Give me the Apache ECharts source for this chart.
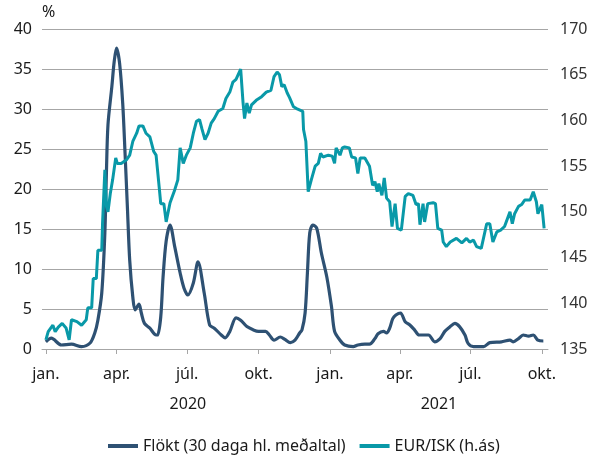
<!DOCTYPE html>
<html lang="is">
<head>
    <meta charset="UTF-8">
    <title>Flökt og EUR/ISK</title>
    <script src="https://cdn.jsdelivr.net/npm/echarts@6/dist/echarts.min.js"></script>
    <style>
        * { margin: 0; padding: 0; }
        body { background: #fff; }
        #main { width: 594px; height: 455px; }
    </style>
</head>
<body>
<div id="main"></div>
<script>
    // flökt, 30 daga hlaupandi meðaltal (vinstri ás, %)
    var floktDates = ['2020-01-01','2020-01-08','2020-01-21','2020-02-03','2020-02-16','2020-02-27','2020-03-04','2020-03-08','2020-03-13','2020-03-17','2020-03-19','2020-03-21','2020-03-26','2020-03-29','2020-04-01','2020-04-05','2020-04-09','2020-04-12','2020-04-15','2020-04-18','2020-04-22','2020-04-25','2020-04-30','2020-05-03','2020-05-07','2020-05-14','2020-05-22','2020-05-24','2020-05-28','2020-05-31','2020-06-04','2020-06-09','2020-06-15','2020-06-22','2020-06-27','2020-07-02','2020-07-09','2020-07-15','2020-07-23','2020-07-30','2020-08-05','2020-08-14','2020-08-19','2020-08-25','2020-09-02','2020-09-08','2020-09-16','2020-09-24','2020-10-01','2020-10-10','2020-10-15','2020-10-21','2020-10-29','2020-11-04','2020-11-11','2020-11-17','2020-11-23','2020-11-26','2020-11-30','2020-12-03','2020-12-06','2020-12-10','2020-12-15','2020-12-21','2020-12-28','2021-01-03','2021-01-07','2021-01-14','2021-01-20','2021-01-31','2021-02-06','2021-02-15','2021-02-21','2021-02-28','2021-03-04','2021-03-11','2021-03-15','2021-03-19','2021-03-23','2021-03-27','2021-04-02','2021-04-08','2021-04-14','2021-04-20','2021-04-26','2021-05-08','2021-05-16','2021-05-23','2021-05-29','2021-06-05','2021-06-11','2021-06-17','2021-06-24','2021-06-28','2021-07-05','2021-07-18','2021-07-26','2021-08-10','2021-08-21','2021-08-25','2021-09-01','2021-09-07','2021-09-14','2021-09-20','2021-09-26','2021-10-03'];
    var flokt = [0.9,1.35,0.5,0.6,0.3,0.75,2.0,3.6,7.0,14.5,22,28,32.8,35.9,37.6,35.7,30.7,24.5,17.8,11.1,6.5,4.9,5.6,4.5,3.2,2.6,1.75,1.75,4.0,9.0,13.5,15.5,12.8,9.5,7.6,6.75,8.25,10.9,7.0,3.0,2.6,1.75,1.4,2.2,3.9,3.6,2.8,2.4,2.2,2.2,1.75,1.1,1.5,1.2,0.8,1.1,2.0,2.4,4.5,9.5,14.5,15.5,15.1,12.0,9.0,5.3,2.2,1.1,0.5,0.3,0.5,0.6,0.6,1.3,1.9,2.2,2.0,2.6,3.8,4.25,4.5,3.4,3.0,2.4,1.75,1.75,0.9,1.3,2.2,2.8,3.2,2.8,1.75,0.7,0.3,0.3,0.8,0.9,1.1,0.9,1.3,1.75,1.6,1.75,1.1,1.0];

    // gengi EUR/ISK (hægri ás)
    var eurDates = ['2020-01-01','2020-01-04','2020-01-10','2020-01-13','2020-01-17','2020-01-22','2020-01-27','2020-01-31','2020-02-03','2020-02-10','2020-02-16','2020-02-22','2020-02-24','2020-02-29','2020-03-02','2020-03-06','2020-03-08','2020-03-13','2020-03-14','2020-03-17','2020-03-19','2020-03-21','2020-03-24','2020-03-27','2020-03-31','2020-04-02','2020-04-07','2020-04-14','2020-04-18','2020-04-22','2020-04-27','2020-04-30','2020-05-05','2020-05-09','2020-05-14','2020-05-19','2020-05-22','2020-05-26','2020-05-28','2020-06-01','2020-06-04','2020-06-09','2020-06-15','2020-06-19','2020-06-22','2020-06-26','2020-06-30','2020-07-05','2020-07-09','2020-07-13','2020-07-17','2020-07-20','2020-07-24','2020-07-28','2020-08-01','2020-08-05','2020-08-10','2020-08-16','2020-08-20','2020-08-25','2020-08-29','2020-09-02','2020-09-08','2020-09-11','2020-09-13','2020-09-16','2020-09-19','2020-09-22','2020-09-28','2020-10-05','2020-10-11','2020-10-17','2020-10-21','2020-10-25','2020-10-28','2020-10-31','2020-11-03','2020-11-07','2020-11-10','2020-11-15','2020-11-19','2020-11-27','2020-11-28','2020-12-01','2020-12-04','2020-12-08','2020-12-13','2020-12-17','2020-12-20','2020-12-23','2020-12-30','2021-01-04','2021-01-07','2021-01-09','2021-01-14','2021-01-17','2021-01-20','2021-01-26','2021-01-29','2021-02-03','2021-02-06','2021-02-09','2021-02-15','2021-02-21','2021-02-25','2021-02-28','2021-03-03','2021-03-05','2021-03-09','2021-03-12','2021-03-15','2021-03-19','2021-03-22','2021-03-26','2021-03-29','2021-04-03','2021-04-08','2021-04-12','2021-04-18','2021-04-22','2021-04-25','2021-04-27','2021-05-01','2021-05-03','2021-05-07','2021-05-14','2021-05-17','2021-05-20','2021-05-25','2021-05-27','2021-05-31','2021-06-05','2021-06-13','2021-06-20','2021-06-26','2021-06-30','2021-07-05','2021-07-09','2021-07-15','2021-07-22','2021-07-26','2021-07-30','2021-08-04','2021-08-09','2021-08-14','2021-08-21','2021-08-24','2021-08-27','2021-09-01','2021-09-05','2021-09-09','2021-09-16','2021-09-20','2021-09-24','2021-09-26','2021-10-01','2021-10-04'];
    var eurIsk = [136.0,136.9,137.6,136.9,137.4,137.8,137.3,136.0,138.2,138.0,137.6,138.2,139.5,139.5,142.7,142.7,145.8,145.8,148.7,154.6,150.6,150.0,152.0,153.5,155.9,155.3,155.3,155.7,156.2,157.7,158.6,159.4,159.4,158.6,158.2,156.6,156.2,152.7,150.9,150.9,148.9,151.0,152.4,153.5,157.0,155.3,156.2,157.0,158.6,159.9,160.1,159.1,157.9,158.6,159.7,160.2,161.0,161.3,162.4,163.1,164.2,164.5,165.6,162.0,160.2,161.9,160.8,161.7,162.2,162.6,163.1,163.3,164.8,165.3,165.0,163.7,163.9,163.0,162.5,161.5,161.3,161.0,159.0,157.7,152.2,153.5,155.0,155.3,156.4,156.0,156.2,156.1,155.3,157.0,156.2,157.0,157.1,157.0,156.0,155.9,154.2,155.9,155.9,155.0,152.9,153.3,152.2,153.1,151.8,153.7,151.5,151.1,148.4,150.9,148.2,148.0,151.7,152.0,151.8,150.8,150.9,148.6,150.9,148.9,150.9,151.0,150.9,148.2,148.0,146.7,146.2,146.7,147.1,146.6,147.1,146.7,146.9,146.2,146.0,148.7,148.7,146.7,147.8,148.0,148.4,150.0,148.7,149.8,150.6,150.8,151.3,151.3,152.2,151.1,149.8,150.8,148.2];

    // merkingar á x-ás
    var tickDates = ['2020-01-01','2020-04-01','2020-07-01','2020-10-01','2021-01-01','2021-04-01','2021-07-01','2021-10-01'];
    var monthNames = {0: 'jan.', 3: 'apr.', 6: 'júl.', 9: 'okt.'};
    var axisMin = '2019-12-27';
    var axisMax = '2021-10-09';

    function ts(s) {
        var p = s.split('-');
        return Date.UTC(+p[0], +p[1] - 1, +p[2]);
    }
    function pairs(d, v) {
        return d.map(function (x, i) { return [ts(x), v[i]]; });
    }

    // ártöl í miðju hvers árs á ásnum
    var yearMid = [
        (ts('2020-01-01') + ts('2021-01-01')) / 2,
        (ts('2021-01-01') + ts(axisMax)) / 2
    ];

    var font = '"Noto Sans", sans-serif';
    var fs = 16;
    var textColor = '#1a1a1a';
    var gridColor = '#a6a6a6';
    var navy = '#2e5173';
    var teal = '#0999a8';

    var chart = echarts.init(document.getElementById('main'));
    chart.setOption({
        animation: false,
        textStyle: { fontFamily: font },
        grid: { left: 42, right: 46, top: 29, bottom: 106 },
        legend: {
            left: 103, top: 433,
            itemWidth: 30, itemHeight: 4, itemGap: 14,
            icon: 'rect',
            textStyle: { fontFamily: font, fontSize: fs, color: textColor },
            data: ['Flökt (30 daga hl. meðaltal)', 'EUR/ISK (h.ás)']
        },
        xAxis: [{
            type: 'value',
            min: ts(axisMin), max: ts(axisMax),
            axisLine: { lineStyle: { color: gridColor, width: 1 } },
            axisTick: { show: true, length: 5, inside: false, customValues: tickDates.map(ts), lineStyle: { color: gridColor } },
            axisLabel: {
                customValues: tickDates.map(ts),
                margin: 17,
                fontSize: fs, color: textColor, fontFamily: font,
                formatter: function (v) { return monthNames[new Date(v).getUTCMonth()]; }
            },
            splitLine: { show: false }
        }, {
            type: 'value',
            position: 'bottom',
            min: ts(axisMin), max: ts(axisMax),
            axisLine: { show: false },
            axisTick: { show: false },
            splitLine: { show: false },
            axisLabel: {
                customValues: yearMid,
                margin: 47,
                fontSize: fs, color: textColor, fontFamily: font,
                formatter: function (v) { return String(new Date(v).getUTCFullYear()); }
            }
        }],
        yAxis: [{
            type: 'value',
            min: 0, max: 40, interval: 5,
            name: '%',
            nameLocation: 'end',
            nameGap: 9,
            nameTextStyle: { fontSize: fs, color: textColor, align: 'left', fontFamily: font },
            axisLine: { show: false },
            axisTick: { show: false },
            axisLabel: { margin: 10, fontSize: fs, color: textColor, fontFamily: font },
            splitLine: { lineStyle: { color: gridColor, width: 1 } }
        }, {
            type: 'value',
            min: 135, max: 170, interval: 5,
            position: 'right',
            axisLine: { show: false },
            axisTick: { show: false },
            axisLabel: { margin: 12, fontSize: fs, color: '#333', fontFamily: font },
            splitLine: { show: false }
        }],
        series: [{
            name: 'Flökt (30 daga hl. meðaltal)',
            type: 'line',
            xAxisIndex: 0, yAxisIndex: 0,
            showSymbol: false,
            smooth: 0.3,
            color: navy,
            lineStyle: { width: 3.2, color: navy },
            data: pairs(floktDates, flokt)
        }, {
            name: 'EUR/ISK (h.ás)',
            type: 'line',
            xAxisIndex: 0, yAxisIndex: 1,
            showSymbol: false,
            color: teal,
            lineStyle: { width: 3, color: teal },
            data: pairs(eurDates, eurIsk)
        }]
    });
</script>
</body>
</html>
